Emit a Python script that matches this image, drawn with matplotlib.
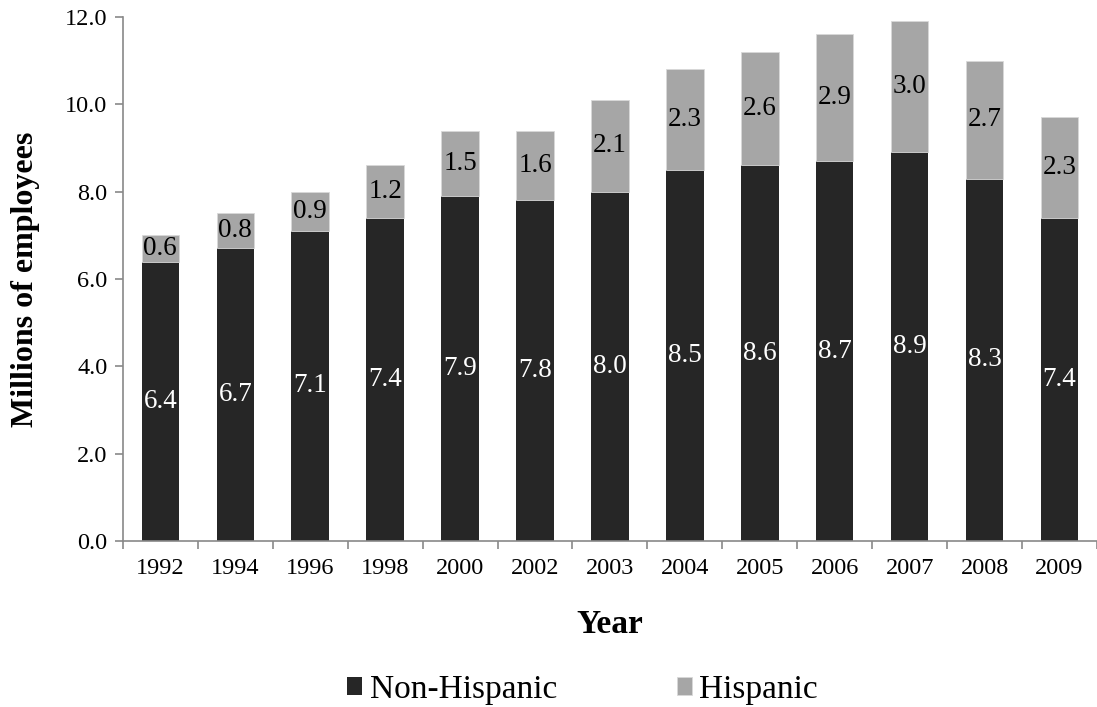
import numpy as np
import matplotlib
matplotlib.use("Agg")
import matplotlib.pyplot as plt
from matplotlib.ticker import FormatStrFormatter, FixedLocator

years = ["1992", "1994", "1996", "1998", "2000", "2002", "2003",
         "2004", "2005", "2006", "2007", "2008", "2009"]
non_hispanic = [6.4, 6.7, 7.1, 7.4, 7.9, 7.8, 8.0, 8.5, 8.6, 8.7, 8.9, 8.3, 7.4]
hispanic = [0.6, 0.8, 0.9, 1.2, 1.5, 1.6, 2.1, 2.3, 2.6, 2.9, 3.0, 2.7, 2.3]

dark = "#262626"
light = "#a6a6a6"
axis_col = "#898989"

plt.rcParams["font.family"] = ["Liberation Serif", "DejaVu Serif"]

fig = plt.figure(figsize=(10.97, 7.07), dpi=100)
ax = fig.add_axes([0.112, 0.2348, 0.888, 0.7412])

x = np.arange(len(years))
b1 = ax.bar(x, non_hispanic, width=0.5, color=dark, label="Non-Hispanic")
b2 = ax.bar(x, hispanic, width=0.5, bottom=non_hispanic, color=light,
            edgecolor="#d9d9d9", linewidth=0.6, label="Hispanic")

ax.bar_label(b1, labels=[f"{v:.1f}" for v in non_hispanic], label_type="center",
             color="white", fontsize=19.5)
ax.bar_label(b2, labels=[f"{v:.1f}" for v in hispanic], label_type="center",
             color="black", fontsize=19.5)

ax.set_xlim(-0.5, len(years) - 0.5)
ax.set_ylim(0, 12)
ax.set_yticks(np.arange(0, 12.1, 2))
ax.yaxis.set_major_formatter(FormatStrFormatter("%.1f"))
ax.set_xticks(x)
ax.set_xticklabels(years)
ax.xaxis.set_minor_locator(FixedLocator(np.arange(-0.5, len(years), 1)))

ax.tick_params(axis="x", which="major", length=0, labelsize=17.5, pad=12)
ax.tick_params(axis="x", which="minor", length=6, color=axis_col, width=1.2)
ax.tick_params(axis="y", length=6, color=axis_col, width=1.2, labelsize=17.5, pad=5)

for s in ["top", "right"]:
    ax.spines[s].set_visible(False)
for s in ["left", "bottom"]:
    ax.spines[s].set_color(axis_col)
    ax.spines[s].set_linewidth(1.2)

ax.set_ylabel("Millions of employees", fontsize=23, fontweight="bold", labelpad=18)
ax.set_xlabel("Year", fontsize=24, fontweight="bold", labelpad=22)

fig.legend(handles=[b1, b2], loc="center", bbox_to_anchor=(0.531, 0.025),
           ncol=2, frameon=False, fontsize=24, handlelength=0.45, handleheight=0.45,
           handletextpad=0.22, columnspacing=3.6)

fig.savefig("out.png", dpi=100)
